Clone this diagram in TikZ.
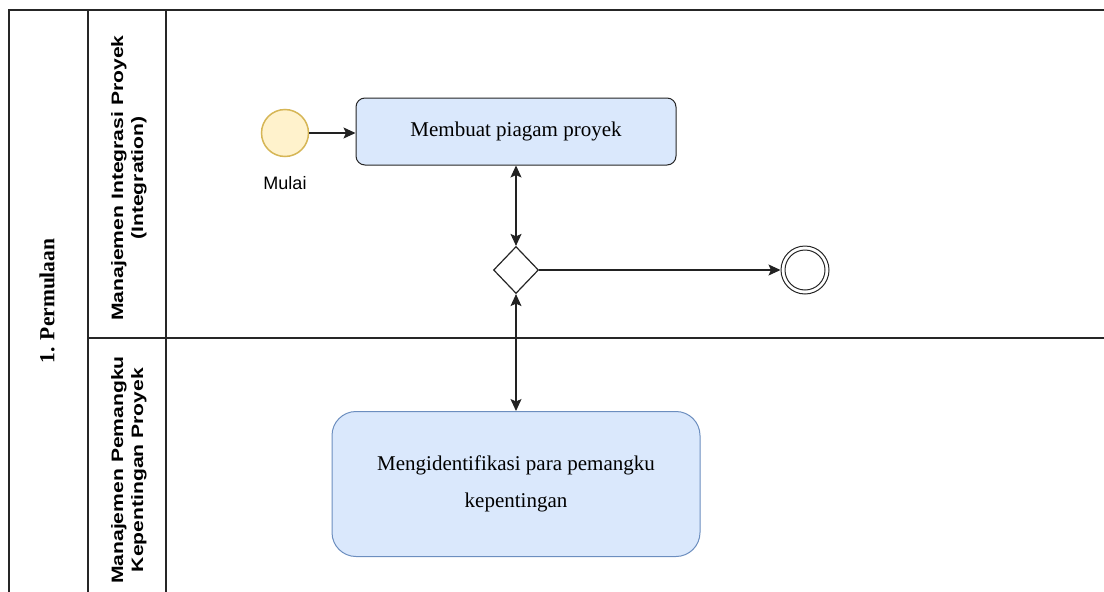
\documentclass[tikz,border=0pt]{standalone}
\usepackage{fontspec}
\setmainfont{Liberation Serif}
\newfontfamily\lanefont[FakeStretch=1.28]{Liberation Sans}
\newfontfamily\sansf{Liberation Sans}
\usetikzlibrary{arrows.meta,shapes.geometric}
\definecolor{taskfill}{HTML}{DAE8FC}
\definecolor{taskline}{HTML}{6C8EBF}
\definecolor{startfill}{HTML}{FFF2CC}
\definecolor{startline}{HTML}{D6B656}
\definecolor{linegray}{HTML}{222222}
\tikzset{
  laneline/.style={line width=1.5pt, draw=black!85},
  lanelabel/.style={rotate=90, font=\lanefont\bfseries\fontsize{16.5}{20}\selectfont, align=center, inner sep=0pt},
  phaselabel/.style={rotate=90, font=\bfseries\fontsize{21.5}{24}\selectfont, inner sep=0pt},
  taskbox/.style={draw, fill=taskfill, line width=1pt, align=center, inner sep=0pt},
  flow/.style={line width=1.1pt, draw=linegray, -{Stealth[length=12pt,width=11pt,inset=2.5pt]}},
  biflow/.style={line width=1.1pt, draw=linegray, {Stealth[length=12pt,width=11pt,inset=2.5pt]}-{Stealth[length=12pt,width=11pt,inset=2.5pt]}},
}
\begin{document}
\begin{tikzpicture}[x=1pt,y=-1pt]
\useasboundingbox (0,0) rectangle (1104,592);
% pool and lanes
\coordinate (tl) at (9,10);
\coordinate (tr) at (1106,10);
\coordinate (bl) at (9,594);
\draw[laneline] (bl) -- (tl) -- (tr);
\draw[laneline] (88,10) -- (88,594);
\draw[laneline] (166,10) -- (166,594);
\draw[laneline] (88,338) -- (1106,338);
% labels
\node[phaselabel] (phase) at (47,301) {1. Permulaan};
\node[lanelabel] (lane1) at (129,178) {Manajemen Integrasi Proyek\\(Integration)};
\node[lanelabel] (lane2) at (129,470) {Manajemen Pemangku\\Kepentingan Proyek};
% elements
\node[circle, draw=startline, fill=startfill, line width=1.5pt, minimum size=47pt, inner sep=0pt] (start) at (285,133) {};
\node[font=\sansf\fontsize{18}{20}\selectfont, inner sep=0pt] (mulai) at (285,183) {Mulai};
\node[taskbox, draw=black!85, rounded corners=9pt, minimum width=320pt, minimum height=67pt, font=\fontsize{21}{24}\selectfont] (t1) at (516,131.5) {Membuat piagam proyek};
\node[diamond, draw=black!85, line width=1.2pt, fill=white, minimum width=45pt, minimum height=47pt, inner sep=0pt] (gw) at (516,270) {};
\node[circle, draw=black!85, line width=1pt, minimum size=48pt, inner sep=0pt] (end) at (805,270) {};
\node[circle, draw=black!85, line width=1pt, minimum size=40pt, inner sep=0pt] (endin) at (end.center) {};
\node[taskbox, draw=taskline, rounded corners=24pt, minimum width=368pt, minimum height=145pt, font=\fontsize{21}{37}\selectfont] (t2) at (516,484) {Mengidentifikasi para pemangku\\kepentingan};
% connectors
\draw[flow] (start.east) -- (start.east -| t1.west);
\draw[biflow] (t1) -- (gw);
\draw[biflow] (gw) -- (t2);
\draw[flow] (gw.east) -- (end.west);
\end{tikzpicture}
\end{document}
